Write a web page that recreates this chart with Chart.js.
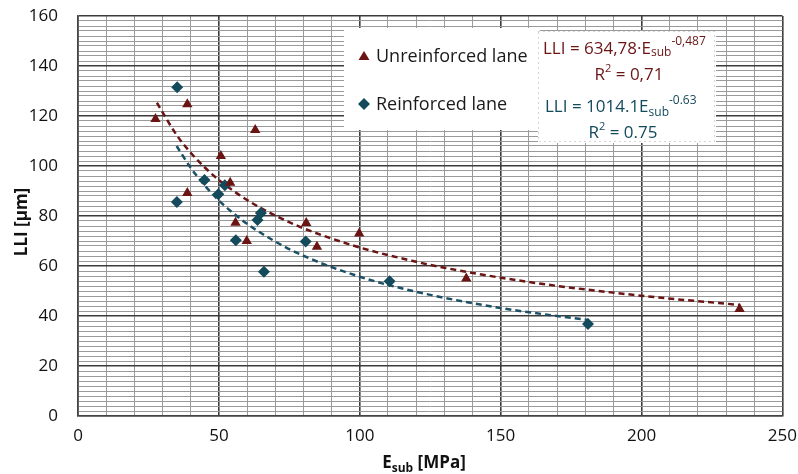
<!DOCTYPE html>
<html>
<head>
<meta charset="utf-8">
<script src="https://cdn.jsdelivr.net/npm/chart.js@4.4.0/dist/chart.umd.min.js"></script>
<style>
  html,body{margin:0;padding:0;background:#fff;}
  #wrap{width:798px;height:474px;position:relative;}
</style>
</head>
<body>
<div id="wrap"><canvas id="chart" width="798" height="474"></canvas></div>
<script>
// measured points
var unreinfE   = [27.5, 38.8, 38.8, 50.7, 54.0, 55.9, 59.9, 62.9, 81.0, 84.8, 99.8, 137.8, 234.8];
var unreinfLLI = [118.8, 124.7, 89.2, 104.0, 93.3, 77.3, 70.0, 114.4, 77.2, 67.7, 73.0, 55.0, 42.8];
var reinfE     = [35.2, 35.1, 44.9, 49.8, 52.1, 56.0, 63.7, 64.9, 66.0, 80.8, 110.6, 181.0];
var reinfLLI   = [131.5, 85.6, 94.4, 88.7, 92.3, 70.3, 78.4, 81.2, 57.7, 69.8, 53.9, 36.8];

// trend curves
var trendUE   = [28, 35, 40, 45, 50, 60, 70, 80, 100, 120, 130, 160, 200, 235];
var trendULLI = [125.3, 112.4, 105.3, 99.4, 94.4, 86.4, 80.2, 75.1, 67.4, 61.7, 59.3, 53.6, 48.1, 44.4];
var trendRE   = [35, 40, 45, 50, 60, 70, 80, 100, 120, 150, 181];
var trendRLLI = [108.0, 99.3, 92.2, 86.2, 76.9, 69.8, 64.1, 55.7, 49.7, 43.2, 38.4];

var xLabels = [0, 50, 100, 150, 200, 250];
var yLabels = [0, 20, 40, 60, 80, 100, 120, 140, 160];

var RED = "#6b1414";
var TEAL = "#134a5c";
var FONT = "'Open Sans', Lato, sans-serif";

function pts(xs, ys){
  var out = [];
  for (var i = 0; i < xs.length; i++) out.push({x: xs[i], y: ys[i]});
  return out;
}

// draws text pieces with sub/superscripts, returns width
function richText(ctx, parts, x, y, color, measureOnly){
  var w = 0;
  for (var i = 0; i < parts.length; i++){
    var p = parts[i];
    ctx.font = (p.bold ? "bold " : "") + p.size + "px " + FONT;
    if (!measureOnly){
      ctx.fillStyle = color;
      ctx.fillText(p.t, x + w, y + (p.dy || 0));
    }
    w += ctx.measureText(p.t).width;
  }
  return w;
}

var overlay = {
  id: "overlay",
  afterDraw: function(chart){
    var ctx = chart.ctx;
    ctx.save();
    ctx.textBaseline = "alphabetic";
    ctx.textAlign = "left";

    // legend box
    ctx.fillStyle = "#fff";
    ctx.fillRect(344, 28, 196, 102);
    // equations box
    ctx.fillRect(538, 31, 178, 112);
    ctx.setLineDash([1, 4]);
    ctx.strokeStyle = "#aaa";
    ctx.lineWidth = 1;
    ctx.strokeRect(538.5, 31.5, 176, 110);
    ctx.setLineDash([]);

    // legend markers
    ctx.fillStyle = RED;
    ctx.beginPath();
    ctx.moveTo(364, 51); ctx.lineTo(369.5, 60); ctx.lineTo(358.5, 60); ctx.closePath();
    ctx.fill();
    ctx.fillStyle = TEAL;
    ctx.beginPath();
    ctx.moveTo(364, 98); ctx.lineTo(370, 104); ctx.lineTo(364, 110); ctx.lineTo(358, 104); ctx.closePath();
    ctx.fill();

    ctx.fillStyle = "#1a1a1a";
    ctx.font = "18px " + FONT;
    ctx.fillText("Unreinforced lane", 376, 62);
    ctx.fillText("Reinforced lane", 376, 110);

    // equations
    var eq1 = [{t:"LLI = 634,78·E", size:17}, {t:"sub", size:12, dy:2}, {t:"-0,487", size:12, dy:-9}];
    richText(ctx, eq1, 543, 54, RED);
    var r1 = [{t:"R", size:17}, {t:"2", size:11, dy:-8}, {t:" = 0,71", size:17}];
    var w1 = richText(ctx, r1, 0, 0, RED, true);
    richText(ctx, r1, 629 - w1 / 2, 80, RED);

    var eq2 = [{t:"LLI = 1014.1E", size:17}, {t:"sub", size:12, dy:4}, {t:"-0.63", size:12, dy:-8}];
    richText(ctx, eq2, 545, 112, TEAL);
    var r2 = [{t:"R", size:17}, {t:"2", size:11, dy:-8}, {t:" = 0.75", size:17}];
    var w2 = richText(ctx, r2, 0, 0, TEAL, true);
    richText(ctx, r2, 623 - w2 / 2, 138, TEAL);

    // axis titles
    var xt = [{t:"E", size:17, bold:true}, {t:"sub", size:12, bold:true, dy:4}, {t:" [MPa]", size:17, bold:true}];
    var wx = richText(ctx, xt, 0, 0, "#111", true);
    richText(ctx, xt, 424 - wx / 2, 468, "#111");

    ctx.fillStyle = "#111";
    ctx.translate(27, 222);
    ctx.rotate(-Math.PI / 2);
    ctx.font = "bold 17px " + FONT;
    ctx.textAlign = "center";
    ctx.fillText("LLI [µm]", 0, 0);
    ctx.restore();
  }
};

function gridColor(major){
  return function(c){
    var v = c.tick ? c.tick.value : 0;
    return (v % major === 0) ? "#3c3c3c" : "#9a9a9a";
  };
}
function gridWidth(major){
  return function(c){
    var v = c.tick ? c.tick.value : 0;
    return (v % major === 0) ? 1.6 : 1;
  };
}

new Chart(document.getElementById("chart"), {
  type: "scatter",
  data: {
    datasets: [{
      label: "Unreinforced lane",
      data: pts(unreinfE, unreinfLLI),
      pointStyle: "triangle",
      pointRadius: 6,
      backgroundColor: RED,
      borderColor: RED,
      borderWidth: 0,
      order: 1
    }, {
      label: "Reinforced lane",
      data: pts(reinfE, reinfLLI),
      pointStyle: "rectRot",
      pointRadius: 6,
      backgroundColor: TEAL,
      borderColor: TEAL,
      borderWidth: 0,
      order: 1
    }, {
      label: "trend U",
      data: pts(trendUE, trendULLI),
      showLine: true,
      pointRadius: 0,
      borderColor: RED,
      borderWidth: 2.5,
      borderDash: [6, 4],
      cubicInterpolationMode: "monotone",
      order: 2
    }, {
      label: "trend R",
      data: pts(trendRE, trendRLLI),
      showLine: true,
      pointRadius: 0,
      borderColor: "#1a5166",
      borderWidth: 2.5,
      borderDash: [6, 4],
      cubicInterpolationMode: "monotone",
      order: 2
    }]
  },
  options: {
    responsive: false,
    animation: false,
    layout: {padding: {top: 16, right: 0, left: 0, bottom: 0}},
    plugins: {legend: {display: false}, tooltip: {enabled: false}},
    scales: {
      x: {
        type: "linear",
        min: 0, max: 250,
        afterFit: function(s){ s.height = 58; },
        ticks: {
          stepSize: 10, autoSkip: false, maxRotation: 0, padding: 1,
          color: "#111", font: {family: FONT, size: 17},
          callback: function(v){ return xLabels.indexOf(v) >= 0 ? String(v) : ""; }
        },
        grid: {color: gridColor(50), lineWidth: gridWidth(50), drawTicks: true, tickLength: 9, tickColor: "rgba(0,0,0,0)"},
        border: {color: "#444", width: 1.6}
      },
      y: {
        min: 0, max: 160,
        afterFit: function(s){ s.width = 78; },
        ticks: {
          stepSize: 2, autoSkip: false, padding: 1,
          color: "#111", font: {family: FONT, size: 17},
          callback: function(v){ return yLabels.indexOf(v) >= 0 ? String(v) : ""; }
        },
        grid: {color: gridColor(20), lineWidth: gridWidth(20), drawTicks: true, tickLength: 19, tickColor: "rgba(0,0,0,0)"},
        border: {color: "#444", width: 1.6}
      }
    }
  },
  plugins: [overlay]
});
</script>
</body>
</html>
